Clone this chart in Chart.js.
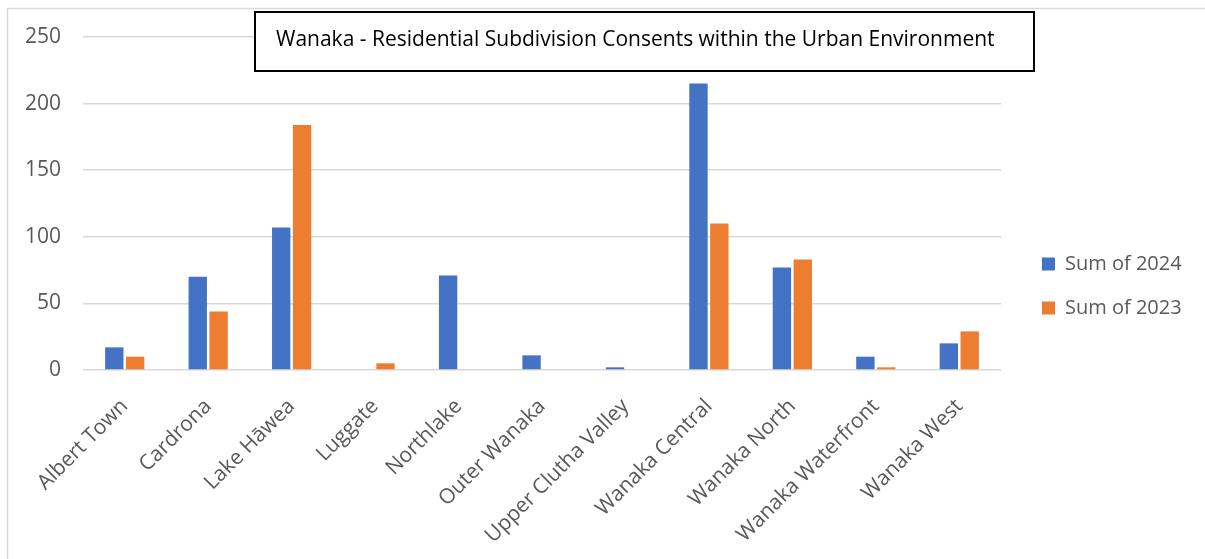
<!DOCTYPE html>
<html>
<head>
<meta charset="utf-8">
<title>Wanaka - Residential Subdivision Consents</title>
<script src="https://cdn.jsdelivr.net/npm/chart.js@4.4.1/dist/chart.umd.min.js"></script>
<style>
  html, body { margin: 0; padding: 0; background: #ffffff; }
  #wrap { position: relative; width: 1205px; height: 559px; }
  canvas { display: block; }
</style>
</head>
<body>
<div id="wrap"><canvas id="chart" width="1205" height="559"></canvas></div>
<script>
// Areas (x-axis categories)
const areas = [
  'Albert Town', 'Cardrona', 'Lake Hāwea', 'Luggate', 'Northlake', 'Outer Wanaka',
  'Upper Clutha Valley', 'Wanaka Central', 'Wanaka North', 'Wanaka Waterfront', 'Wanaka West'
];

// Consent counts per area
const sum2024 = [17, 70, 107, 0, 71, 11, 2, 215, 77, 10, 20];
const sum2023 = [10, 44, 184, 5, 0, 0, 0, 110, 83, 2, 29];

// Value axis
const yMin = 0;
const yMax = 250;
const yStep = 50;

const chartTitle = 'Wanaka - Residential Subdivision Consents within the Urban Environment';
const seriesLabels = ['Sum of 2024', 'Sum of 2023'];

const BLUE = '#4472C4';
const ORANGE = '#ED7D31';
const TEXT = '#595959';
const GRID = '#d9d9d9';
const FONT = "'Open Sans', 'DejaVu Sans', sans-serif";

// Light outer frame around the chart
const framePlugin = {
  id: 'frame',
  beforeDraw(chart) {
    const ctx = chart.ctx;
    ctx.save();
    ctx.fillStyle = '#ffffff';
    ctx.fillRect(0, 0, chart.width, chart.height);
    ctx.strokeStyle = GRID;
    ctx.lineWidth = 1.5;
    ctx.beginPath();
    ctx.moveTo(7.5, chart.height + 2);
    ctx.lineTo(7.5, 8.5);
    ctx.lineTo(chart.width + 2, 8.5);
    ctx.stroke();
    ctx.restore();
  }
};

// Boxed title laid over the top of the plot
const titleBoxPlugin = {
  id: 'titleBox',
  afterDraw(chart) {
    const ctx = chart.ctx;
    const x = 255, y = 12, w = 779, h = 59;
    ctx.save();
    ctx.fillStyle = '#ffffff';
    ctx.fillRect(x, y, w, h);
    ctx.strokeStyle = '#000000';
    ctx.lineWidth = 2;
    ctx.strokeRect(x, y, w, h);
    ctx.fillStyle = '#000000';
    ctx.font = "21px " + FONT;
    ctx.textAlign = 'left';
    ctx.textBaseline = 'middle';
    ctx.fillText(chartTitle, x + 21, y + h / 2 - 1);
    ctx.restore();
  }
};

// Legend: fixed width column on the right, placed beside the plot
const legendPlacePlugin = {
  id: 'legendPlace',
  beforeLayout(chart) {
    const lg = chart.legend;
    if (lg && !lg._fixedFit) {
      const fit = lg.fit;
      lg.fit = function () { fit.call(this); this.width = 204; };
      lg._fixedFit = true;
    }
  },
  afterLayout(chart) {
    const lg = chart.legend;
    if (!lg) return;
    const pad = lg.options.labels.padding;
    const dx = 1042 - (lg.left + pad);
    lg.left += dx; lg.right += dx;
    const h = lg.bottom - lg.top;
    lg.top = 254 - pad;
    lg.bottom = lg.top + h;
  }
};

const ctx = document.getElementById('chart').getContext('2d');
new Chart(ctx, {
  type: 'bar',
  data: {
    labels: areas,
    datasets: [
      { label: seriesLabels[0], data: sum2024, backgroundColor: BLUE, borderWidth: 0 },
      { label: seriesLabels[1], data: sum2023, backgroundColor: ORANGE, borderWidth: 0 }
    ]
  },
  options: {
    responsive: false,
    devicePixelRatio: 1,
    animation: false,
    layout: { padding: { top: 37, left: 0, right: 0, bottom: 0 } },
    datasets: { bar: { categoryPercentage: 0.5, barPercentage: 0.88 } },
    plugins: {
      title: { display: false },
      tooltip: { enabled: false },
      legend: {
        display: true,
        position: 'right',
        align: 'start',
        labels: {
          boxWidth: 13,
          boxHeight: 13,
          padding: 24,
          color: TEXT,
          font: { family: FONT, size: 20 }
        }
      }
    },
    scales: {
      x: {
        grid: { display: false, drawTicks: false },
        border: { display: false },
        ticks: {
          autoSkip: false,
          minRotation: 45,
          maxRotation: 45,
          padding: 24,
          color: TEXT,
          font: { family: FONT, size: 21 }
        },
        afterFit(scale) { scale.height = 189; }
      },
      y: {
        min: yMin,
        max: yMax,
        grid: { color: GRID, lineWidth: 1.5, drawTicks: false },
        border: { display: false },
        ticks: {
          stepSize: yStep,
          padding: 22,
          color: TEXT,
          font: { family: FONT, size: 21 }
        },
        afterFit(scale) { scale.width = 83; }
      }
    }
  },
  plugins: [framePlugin, titleBoxPlugin, legendPlacePlugin]
});
</script>
</body>
</html>
